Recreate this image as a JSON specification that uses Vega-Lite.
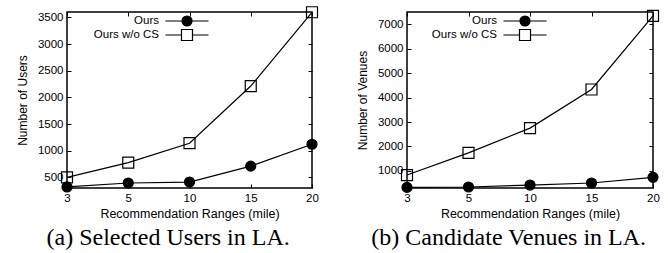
{
  "$schema": "https://vega.github.io/schema/vega-lite/v6.json",
  "padding": {"left": 15, "top": 3, "right": 0, "bottom": 0},
  "background": "white",
  "datasets": {
    "users": [
      {"range": 3, "series": "Ours", "value": 320},
      {"range": 5, "series": "Ours", "value": 394},
      {"range": 10, "series": "Ours", "value": 412},
      {"range": 15, "series": "Ours", "value": 710},
      {"range": 20, "series": "Ours", "value": 1120},
      {"range": 3, "series": "Ours w/o CS", "value": 500},
      {"range": 5, "series": "Ours w/o CS", "value": 775},
      {"range": 10, "series": "Ours w/o CS", "value": 1140},
      {"range": 15, "series": "Ours w/o CS", "value": 2212},
      {"range": 20, "series": "Ours w/o CS", "value": 3595}
    ],
    "venues": [
      {"range": 3, "series": "Ours", "value": 325},
      {"range": 5, "series": "Ours", "value": 340},
      {"range": 10, "series": "Ours", "value": 420},
      {"range": 15, "series": "Ours", "value": 505},
      {"range": 20, "series": "Ours", "value": 735},
      {"range": 3, "series": "Ours w/o CS", "value": 830},
      {"range": 5, "series": "Ours w/o CS", "value": 1735},
      {"range": 10, "series": "Ours w/o CS", "value": 2750},
      {"range": 15, "series": "Ours w/o CS", "value": 4330},
      {"range": 20, "series": "Ours w/o CS", "value": 7345}
    ]
  },
  "spacing": 34,
  "hconcat": [
    {
      "width": 245,
      "height": 176,
      "data": {"name": "users"},
      "title": {"text": "(a) Selected Users in LA.", "orient": "bottom", "frame": "bounds", "anchor": "middle", "font": "Liberation Serif", "fontSize": 24, "fontWeight": "normal", "color": "black", "offset": 6},
      "resolve": {"axis": {"x": "independent", "y": "independent"}, "scale": {"shape": "independent", "fill": "independent", "stroke": "independent"}},
      "layer": [
        {
          "mark": {"type": "line", "color": "black", "strokeWidth": 1.2},
          "encoding": {
            "x": {"field": "range", "type": "ordinal", "sort": "ascending", "scale": {"type": "point", "padding": 0}, "axis": {"orient": "bottom", "title": "Recommendation Ranges (mile)", "labelAngle": 0}},
            "y": {"field": "value", "type": "quantitative", "scale": {"domain": [300, 3600], "nice": false, "zero": false}, "axis": {"orient": "left", "title": "Number of Users", "format": "d", "values": [500, 1000, 1500, 2000, 2500, 3000, 3500]}},
            "detail": {"field": "series"}
          }
        },
        {
          "mark": {"type": "point", "stroke": "black", "strokeWidth": 1.2, "opacity": 1},
          "encoding": {
            "x": {"field": "range", "type": "ordinal", "sort": "ascending", "axis": {"orient": "top", "labels": false, "title": null}},
            "y": {"field": "value", "type": "quantitative", "axis": {"orient": "right", "labels": false, "title": null, "values": [500, 1000, 1500, 2000, 2500, 3000, 3500]}},
            "shape": {"field": "series", "type": "nominal", "scale": {"domain": ["Ours", "Ours w/o CS"], "range": ["circle", "square"]}, "legend": null},
            "fill": {"condition": {"test": "datum.series === 'Ours'", "value": "black"}, "value": "transparent"},
            "size": {"condition": {"test": "datum.series === 'Ours'", "value": 100}, "value": 121}
          }
        },
        {
          "transform": [{"filter": "false"}],
          "mark": {"type": "point", "filled": true, "strokeWidth": 1.2, "opacity": 1},
          "encoding": {
            "shape": {"field": "series", "type": "nominal", "scale": {"domain": ["Ours", "Ours w/o CS"], "range": ["M-4.3,0L4.3,0M-1,0A1,1,0,1,0,1,0A1,1,0,1,0,-1,0Z", "M-4.3,0L-1.1,0M1.1,0L4.3,0M-1.1,-1.1L1.1,-1.1L1.1,1.1L-1.1,1.1Z"]},
              "legend": {"orient": "none", "legendX": 114, "legendY": 3, "title": null, "symbolSize": 100, "symbolStrokeWidth": 1.2, "labelAlign": "right", "labelOffset": -34, "rowPadding": -6, "padding": 0}},
            "fill": {"field": "series", "type": "nominal", "scale": {"domain": ["Ours", "Ours w/o CS"], "range": ["black", "transparent"]},
              "legend": {"orient": "none", "legendX": 114, "legendY": 3, "title": null, "symbolSize": 100, "symbolStrokeWidth": 1.2, "labelAlign": "right", "labelOffset": -34, "rowPadding": -6, "padding": 0}},
            "stroke": {"field": "series", "type": "nominal", "scale": {"domain": ["Ours", "Ours w/o CS"], "range": ["black", "black"]},
              "legend": {"orient": "none", "legendX": 114, "legendY": 3, "title": null, "symbolSize": 100, "symbolStrokeWidth": 1.2, "labelAlign": "right", "labelOffset": -34, "rowPadding": -6, "padding": 0}}
          }
        }
      ]
    },
    {
      "width": 246,
      "height": 176,
      "data": {"name": "venues"},
      "title": {"text": "(b) Candidate Venues in LA.", "orient": "bottom", "frame": "bounds", "anchor": "middle", "font": "Liberation Serif", "fontSize": 24, "fontWeight": "normal", "color": "black", "offset": 6},
      "resolve": {"axis": {"x": "independent", "y": "independent"}, "scale": {"shape": "independent", "fill": "independent", "stroke": "independent"}},
      "layer": [
        {
          "mark": {"type": "line", "color": "black", "strokeWidth": 1.2},
          "encoding": {
            "x": {"field": "range", "type": "ordinal", "sort": "ascending", "scale": {"type": "point", "padding": 0}, "axis": {"orient": "bottom", "title": "Recommendation Ranges (mile)", "labelAngle": 0}},
            "y": {"field": "value", "type": "quantitative", "scale": {"domain": [300, 7500], "nice": false, "zero": false}, "axis": {"orient": "left", "title": "Number of Venues", "format": "d", "values": [1000, 2000, 3000, 4000, 5000, 6000, 7000]}},
            "detail": {"field": "series"}
          }
        },
        {
          "mark": {"type": "point", "stroke": "black", "strokeWidth": 1.2, "opacity": 1},
          "encoding": {
            "x": {"field": "range", "type": "ordinal", "sort": "ascending", "axis": {"orient": "top", "labels": false, "title": null}},
            "y": {"field": "value", "type": "quantitative", "axis": {"orient": "right", "labels": false, "title": null, "values": [1000, 2000, 3000, 4000, 5000, 6000, 7000]}},
            "shape": {"field": "series", "type": "nominal", "scale": {"domain": ["Ours", "Ours w/o CS"], "range": ["circle", "square"]}, "legend": null},
            "fill": {"condition": {"test": "datum.series === 'Ours'", "value": "black"}, "value": "transparent"},
            "size": {"condition": {"test": "datum.series === 'Ours'", "value": 100}, "value": 121}
          }
        },
        {
          "transform": [{"filter": "false"}],
          "mark": {"type": "point", "filled": true, "strokeWidth": 1.2, "opacity": 1},
          "encoding": {
            "shape": {"field": "series", "type": "nominal", "scale": {"domain": ["Ours", "Ours w/o CS"], "range": ["M-4.3,0L4.3,0M-1,0A1,1,0,1,0,1,0A1,1,0,1,0,-1,0Z", "M-4.3,0L-1.1,0M1.1,0L4.3,0M-1.1,-1.1L1.1,-1.1L1.1,1.1L-1.1,1.1Z"]},
              "legend": {"orient": "none", "legendX": 112, "legendY": 3, "title": null, "symbolSize": 100, "symbolStrokeWidth": 1.2, "labelAlign": "right", "labelOffset": -34, "rowPadding": -6, "padding": 0}},
            "fill": {"field": "series", "type": "nominal", "scale": {"domain": ["Ours", "Ours w/o CS"], "range": ["black", "transparent"]},
              "legend": {"orient": "none", "legendX": 112, "legendY": 3, "title": null, "symbolSize": 100, "symbolStrokeWidth": 1.2, "labelAlign": "right", "labelOffset": -34, "rowPadding": -6, "padding": 0}},
            "stroke": {"field": "series", "type": "nominal", "scale": {"domain": ["Ours", "Ours w/o CS"], "range": ["black", "black"]},
              "legend": {"orient": "none", "legendX": 112, "legendY": 3, "title": null, "symbolSize": 100, "symbolStrokeWidth": 1.2, "labelAlign": "right", "labelOffset": -34, "rowPadding": -6, "padding": 0}}
          }
        }
      ]
    }
  ],
  "config": {
    "font": "Liberation Sans",
    "view": {"stroke": "black", "strokeWidth": 1.5},
    "axis": {
      "domain": false,
      "grid": false,
      "tickSize": -4,
      "tickColor": "black",
      "tickWidth": 1,
      "labelFont": "Liberation Sans",
      "labelFontSize": 11.5,
      "labelColor": "black",
      "labelPadding": 8,
      "titleFont": "Liberation Sans",
      "titleFontSize": 12.5,
      "titleFontWeight": "normal",
      "titleColor": "black",
      "titlePadding": 4
    },
    "axisLeft": {"titlePadding": 8, "titleFontSize": 12},
    "legend": {"labelFont": "Liberation Sans", "labelFontSize": 11.5, "labelColor": "black"}
  }
}
